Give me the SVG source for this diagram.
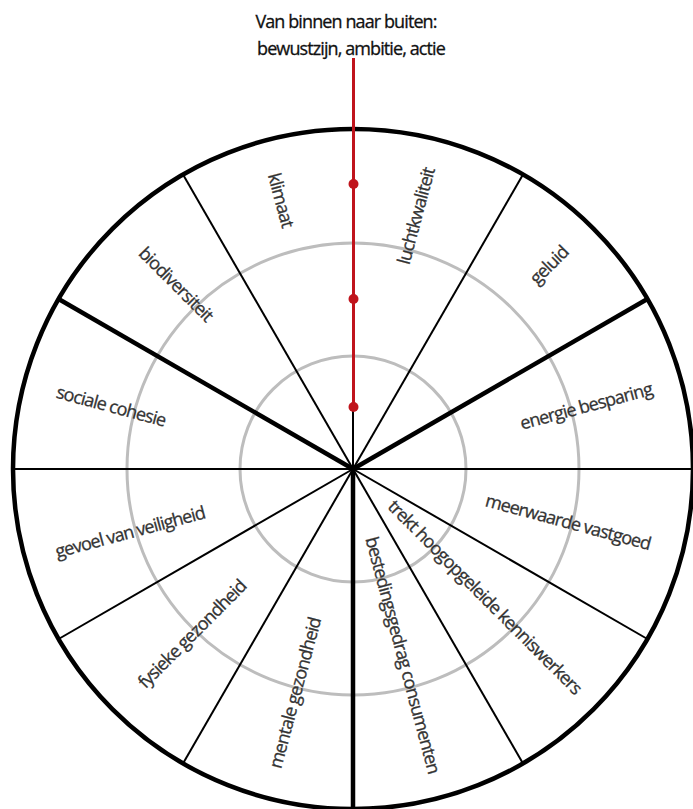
<svg xmlns="http://www.w3.org/2000/svg" width="693" height="809" viewBox="0 0 693 809">
<style>
  .lbl { font-family: "Open Sans", "Noto Sans", "DejaVu Sans", sans-serif; font-size: 18px; letter-spacing: -0.9px; fill: #333; stroke: #333; stroke-width: 0.3px; text-anchor: middle; }
  .ttl { fill: #111; stroke: #111; }
  .ring { fill: none; stroke: #bdbdbd; stroke-width: 3; }
  .thin { stroke: #000; stroke-width: 2; }
  .thick { stroke: #000; stroke-width: 4.5; }
</style>
<rect width="693" height="809" fill="#fff"/>
<g id="rings">
  <circle class="ring" cx="353" cy="469" r="113"/>
  <circle class="ring" cx="353" cy="469" r="226"/>
</g>
<g id="connectors">
  <line class="thin" x1="353" y1="469" x2="353" y2="129"/>
  <line class="thin" x1="353" y1="469" x2="13" y2="469"/>
  <line class="thin" x1="353" y1="469" x2="693" y2="469"/>
  <line class="thin" x1="353" y1="469" x2="183" y2="174.6"/>
  <line class="thin" x1="353" y1="469" x2="523" y2="174.6"/>
  <line class="thick" x1="353" y1="469" x2="58.6" y2="299"/>
  <line class="thick" x1="353" y1="469" x2="647.4" y2="299"/>
  <line class="thin" x1="353" y1="469" x2="58.6" y2="639"/>
  <line class="thin" x1="353" y1="469" x2="647.4" y2="639"/>
  <line class="thin" x1="353" y1="469" x2="183" y2="763.4"/>
  <line class="thin" x1="353" y1="469" x2="523" y2="763.4"/>
  <line class="thick" x1="353" y1="469" x2="353" y2="809"/>
</g>
<g id="outer">
  <circle cx="353" cy="469" r="340" fill="none" stroke="#000" stroke-width="4.5"/>
</g>
<g id="axis">
  <line x1="353.5" y1="58" x2="353.5" y2="407" stroke="#c0141c" stroke-width="3"/>
  <circle cx="353.5" cy="184" r="5" fill="#c0141c"/>
  <circle cx="353.5" cy="299" r="5" fill="#c0141c"/>
  <circle cx="353.5" cy="407" r="5" fill="#c0141c"/>
</g>
<g id="title">
  <text class="lbl ttl" x="346" y="28">Van binnen naar buiten:</text>
  <text class="lbl ttl" x="351" y="55">bewustzijn, ambitie, actie</text>
</g>
<g id="klimaat"><text class="lbl" transform="translate(281,200) rotate(75)" dy="0.35em">klimaat</text></g>
<g id="luchtkwaliteit"><text class="lbl" transform="translate(416,216) rotate(-75)" dy="0.35em">luchtkwaliteit</text></g>
<g id="geluid"><text class="lbl" transform="translate(549,265) rotate(-45)" dy="0.35em">geluid</text></g>
<g id="energie"><text class="lbl" transform="translate(586,406) rotate(-15)" dy="0.35em">energie besparing</text></g>
<g id="sociale"><text class="lbl" transform="translate(111,406) rotate(15)" dy="0.35em">sociale cohesie</text></g>
<g id="biodiversiteit"><text class="lbl" transform="translate(176,284) rotate(45)" dy="0.35em">biodiversiteit</text></g>
<g id="veiligheid"><text class="lbl" transform="translate(130,532) rotate(-15)" dy="0.35em">gevoel van veiligheid</text></g>
<g id="fysieke"><text class="lbl" transform="translate(192,634) rotate(-45)" dy="0.35em">fysieke gezondheid</text></g>
<g id="mentale"><text class="lbl" transform="translate(295,693) rotate(-75)" dy="0.35em">mentale gezondheid</text></g>
<g id="bestedingsgedrag"><text class="lbl" transform="translate(403,655) rotate(75)" dy="0.35em">bestedingsgedrag consumenten</text></g>
<g id="kenniswerkers"><text class="lbl" transform="translate(485,597) rotate(45)" dy="0.35em">trekt hoogopgeleide kenniswerkers</text></g>
<g id="vastgoed"><text class="lbl" transform="translate(568,522) rotate(15)" dy="0.35em">meerwaarde vastgoed</text></g>
</svg>
